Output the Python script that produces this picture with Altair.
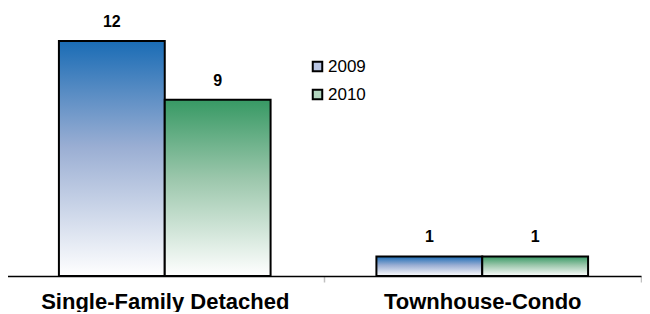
import altair as alt
import pandas as pd

categories = ["Single-Family Detached", "Single-Family Detached", "Townhouse-Condo", "Townhouse-Condo"]
years = ["2009", "2010", "2009", "2010"]
values = [12, 9, 1, 1]

df = pd.DataFrame({"category": categories, "year": years, "value": values})

cat_order = ["Single-Family Detached", "Townhouse-Condo"]
year_order = ["2009", "2010"]

blue_grad = alt.Gradient(gradient="linear", x1=0, x2=0, y1=0, y2=1,
                         stops=[alt.GradientStop(color="#1a6cb5", offset=0),
                                alt.GradientStop(color="#9aaed3", offset=0.45),
                                alt.GradientStop(color="#ffffff", offset=1)])
green_grad = alt.Gradient(gradient="linear", x1=0, x2=0, y1=0, y2=1,
                          stops=[alt.GradientStop(color="#379964", offset=0),
                                 alt.GradientStop(color="#9cc7ac", offset=0.45),
                                 alt.GradientStop(color="#ffffff", offset=1)])

x_enc = alt.X("category:N", sort=cat_order,
              scale=alt.Scale(paddingInner=0, paddingOuter=0),
              axis=alt.Axis(title=None, labelAngle=0, labelFont="Liberation Sans",
                            labelFontWeight="bold", labelFontSize=22, labelColor="#000000",
                            labelLimit=0, labelPadding=9, domainColor="#000000", domainWidth=1.5,
                            tickColor="#c0c0c0", tickSize=6, tickWidth=1.5,
                            tickBand="extent", grid=False))
xoff_enc = alt.XOffset("year:N", sort=year_order,
                       scale=alt.Scale(domain=year_order, paddingInner=0, paddingOuter=0.5))
y_enc = alt.Y("value:Q", scale=alt.Scale(domain=[0, 13.68], nice=False), axis=None)

base = alt.Chart(df).encode(x=x_enc, xOffset=xoff_enc, y=y_enc)

bars09 = base.transform_filter(alt.datum.year == "2009").mark_bar(
    fill=blue_grad, stroke="#000000", strokeWidth=2)
bars10 = base.transform_filter(alt.datum.year == "2010").mark_bar(
    fill=green_grad, stroke="#000000", strokeWidth=2)

labels = base.mark_text(dy=-11, baseline="bottom", font="Liberation Sans", fontWeight="bold",
                        fontSize=16, color="#000000").encode(text="value:Q")

legend_layer = base.mark_point(shape="square", filled=True, opacity=0).encode(
    color=alt.Color("year:N", sort=year_order,
                    scale=alt.Scale(domain=year_order, range=["#b9c6e4", "#b3d6bf"]),
                    legend=alt.Legend(title=None, orient="none", legendX=303, legendY=50,
                                      symbolType="square", symbolSize=90,
                                      symbolStrokeColor="#000000", symbolStrokeWidth=2,
                                      symbolOpacity=1, labelFont="Liberation Sans",
                                      labelFontSize=17, labelColor="#000000",
                                      rowPadding=9, labelOffset=2)))

chart = alt.layer(bars09, bars10, labels, legend_layer).properties(
    width=635, height=268,
    padding={"left": -3, "top": 0, "right": 0, "bottom": 0}
).configure_view(stroke=None)

chart.save("out.html", embed_options={"renderer": "svg", "actions": False})
